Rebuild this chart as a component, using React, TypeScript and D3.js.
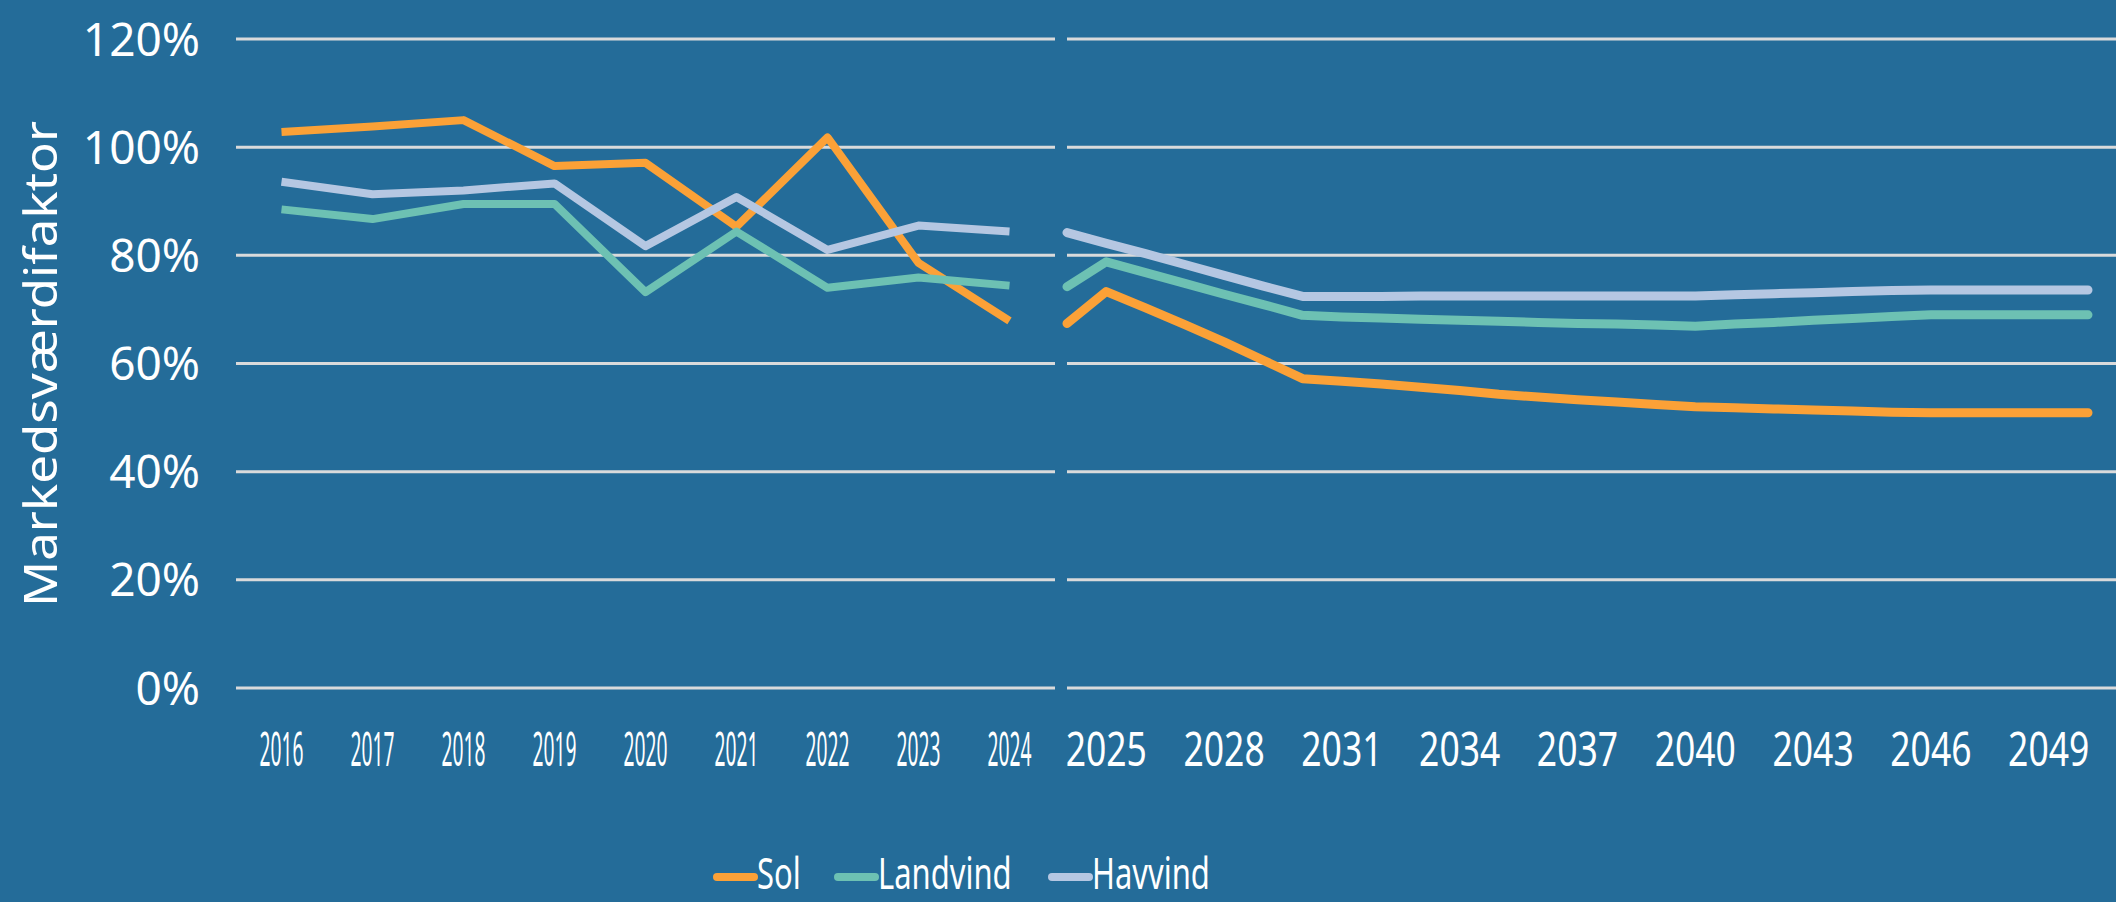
import React from "react";
import * as d3 from "d3";

// historic years (left panel)
const histYears = [2016, 2017, 2018, 2019, 2020, 2021, 2022, 2023, 2024];
const solHist = [102.8, 103.8, 105.0, 96.5, 97.1, 85.3, 101.8, 78.6, 67.9];
const landHist = [88.5, 86.7, 89.5, 89.5, 73.2, 84.4, 74.0, 75.9, 74.4];
const havHist = [93.6, 91.3, 92.0, 93.3, 81.7, 90.8, 81.0, 85.5, 84.4];

// projection (right panel), 2024..2050
const projYears = d3.range(2024, 2051);
const solProj = [67.4, 73.3, 70.3, 67.2, 64.0, 60.6, 57.2, 56.7, 56.2, 55.6, 55.0, 54.3, 53.8, 53.3, 52.9, 52.4, 52.0, 51.8, 51.6, 51.4, 51.2, 51.0, 50.9, 50.9, 50.9, 50.9, 50.9];
const landProj = [74.2, 78.8, 76.8, 74.8, 72.8, 70.9, 68.9, 68.6, 68.4, 68.2, 68.0, 67.8, 67.6, 67.4, 67.3, 67.1, 66.9, 67.3, 67.6, 68.0, 68.3, 68.7, 69.0, 69.0, 69.0, 69.0, 69.0];
const havProj = [84.2, 82.2, 80.3, 78.3, 76.3, 74.3, 72.4, 72.4, 72.4, 72.5, 72.5, 72.5, 72.5, 72.5, 72.5, 72.5, 72.5, 72.7, 72.9, 73.1, 73.3, 73.5, 73.6, 73.6, 73.6, 73.6, 73.6];
const projTicks = [2025, 2028, 2031, 2034, 2037, 2040, 2043, 2046, 2049];

const yTicks = [0, 20, 40, 60, 80, 100, 120];
const seriesNames = ["Sol", "Landvind", "Havvind"];
const colors = ["#FBA137", "#6DC1B3", "#B5C7E2"];

const W = 2116;
const H = 902;
const BG = "#246C99";
const GRID = "#D9DADB";
const FONT = "'Noto Sans', sans-serif";

export default function App() {
  const y = d3.scaleLinear().domain([0, 120]).range([688, 39]);
  const xHist = d3.scalePoint<number>().domain(histYears).range([236, 1055]).padding(0.5);
  const xProj = d3.scaleLinear().domain([2024, 2050]).range([1067, 2088]);

  const histSeries = [solHist, landHist, havHist];
  const projSeries = [solProj, landProj, havProj];

  const lineHist = d3
    .line<number>()
    .x((_, i) => xHist(histYears[i]) as number)
    .y((d) => y(d));
  const lineProj = d3
    .line<number>()
    .x((_, i) => xProj(projYears[i]))
    .y((d) => y(d));

  const legendX = [717, 838, 1052];

  return (
    <svg
      width={W}
      height={H}
      style={{ position: "absolute", left: 0, top: 0, background: BG }}
    >
      <rect x={0} y={0} width={W} height={H} fill={BG} />

      {/* gridlines, two panels */}
      {yTicks.map((t) => (
        <g key={t}>
          <line x1={236} x2={1055} y1={y(t)} y2={y(t)} stroke={GRID} strokeWidth={3} />
          <line x1={1067} x2={W} y1={y(t)} y2={y(t)} stroke={GRID} strokeWidth={3} />
          <text
            x={200}
            y={y(t)}
            dy="0.36em"
            textAnchor="end"
            fill="#fff"
            fontFamily={FONT}
            fontSize={46}
          >
            {t}%
          </text>
        </g>
      ))}

      <text
        transform={`translate(57, 364) rotate(-90)`}
        textAnchor="middle"
        fill="#fff"
        fontFamily={FONT}
        fontSize={46}
        textLength={486}
        lengthAdjust="spacingAndGlyphs"
      >
        Markedsværdifaktor
      </text>

      {/* x labels */}
      {histYears.map((yr) => (
        <text
          key={yr}
          transform={`translate(${xHist(yr)}, 766) scale(0.4, 1)`}
          textAnchor="middle"
          fill="#fff"
          fontFamily={FONT}
          fontSize={48}
        >
          {yr}
        </text>
      ))}
      {projTicks.map((yr) => (
        <text
          key={yr}
          transform={`translate(${xProj(yr)}, 766) scale(0.74, 1)`}
          textAnchor="middle"
          fill="#fff"
          fontFamily={FONT}
          fontSize={48}
        >
          {yr}
        </text>
      ))}

      {/* lines */}
      {histSeries.map((s, i) => (
        <path
          key={"h" + i}
          d={lineHist(s) || ""}
          fill="none"
          stroke={colors[i]}
          strokeWidth={8}
          strokeLinejoin="round"
        />
      ))}
      {projSeries.map((s, i) => (
        <path
          key={"p" + i}
          d={lineProj(s) || ""}
          fill="none"
          stroke={colors[i]}
          strokeWidth={9}
          strokeLinejoin="round"
          strokeLinecap="round"
        />
      ))}

      {/* legend */}
      {seriesNames.map((n, i) => (
        <g key={n} transform={`translate(${legendX[i]}, 877)`}>
          <line x1={0} x2={37} y1={0} y2={0} stroke={colors[i]} strokeWidth={8} strokeLinecap="round" />
          <text
            transform="translate(40, 12) scale(0.72, 1)"
            fill="#fff"
            fontFamily={FONT}
            fontSize={43}
          >
            {n}
          </text>
        </g>
      ))}
    </svg>
  );
}
